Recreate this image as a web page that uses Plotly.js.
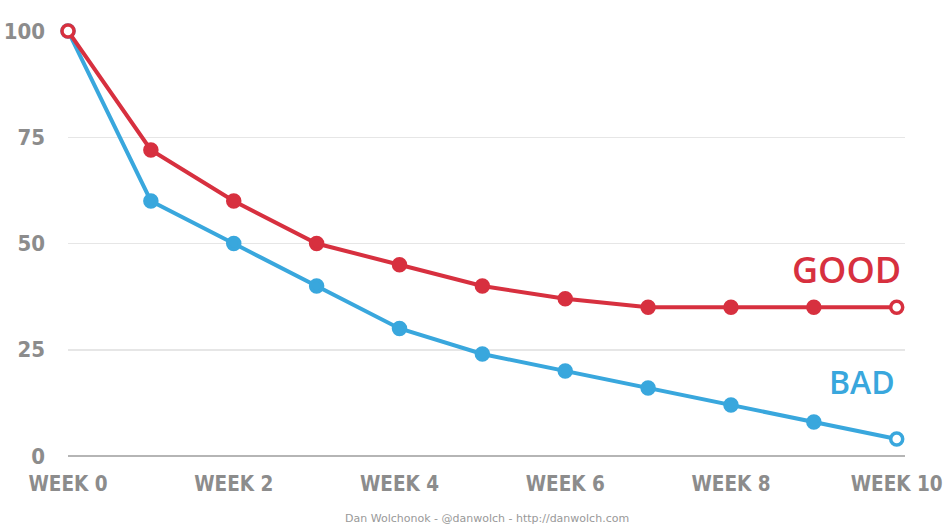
<!DOCTYPE html>
<html>
<head>
<meta charset="utf-8">
<script src="https://cdn.plot.ly/plotly-3.0.1.min.js"></script>
<style>html,body{margin:0;padding:0;background:#fff;}#chart{width:945px;height:528px;}</style>
</head>
<body>
<div id="chart"></div>
<script>
const weeks = [0,1,2,3,4,5,6,7,8,9,10];
const good = [100,72,60,50,45,40,37,35,35,35,35];
const bad = [100,60,50,40,30,24,20,16,12,8,4];
const xTickVals = [0,2,4,6,8,10];
const xTickText = ["WEEK 0","WEEK 2","WEEK 4","WEEK 6","WEEK 8","WEEK 10"];
const yTickVals = [0,25,50,75,100];
const seriesNames = ["GOOD","BAD"];
const credit = "Dan Wolchonok - @danwolch - http://danwolch.com";

const RED = "#d7303f", BLUE = "#39a7dd";
const fam = "'DejaVu Sans Condensed', 'Liberation Sans Narrow', sans-serif";
const xTickFont = {family:fam, size:20.5, color:"#8c8c8c", weight:"bold"};
const yTickFont = {family:fam, size:22, color:"#8c8c8c", weight:"bold"};

function trace(y, color, name){
  const fills = y.map((v,i)=> (i===0||i===y.length-1) ? "#ffffff" : color);
  return {x:weeks, y:y, name:name, type:"scatter", mode:"lines+markers", cliponaxis:false,
    line:{color:color, width:4},
    marker:{symbol:"circle", size:12, color:fills, line:{color:color, width:3.5}}};
}

const data = [trace(bad, BLUE, seriesNames[1]), trace(good, RED, seriesNames[0])];

const layout = {
  width:945, height:528,
  margin:{l:68, r:40, t:31, b:72},
  paper_bgcolor:"#fff", plot_bgcolor:"#fff",
  showlegend:false,
  xaxis:{range:[0,10.1], tickvals:xTickVals, ticktext:xTickText, showgrid:false, zeroline:false,
    showline:false, tickfont:xTickFont, ticks:"", ticklabelstandoff:13, ticklabeloverflow:"allow", fixedrange:true},
  yaxis:{range:[0,100], tickvals:yTickVals, showgrid:true, gridcolor:"#e6e6e6", gridwidth:1.5,
    zeroline:true, zerolinecolor:"#b5b5b5", zerolinewidth:2.5, showline:false,
    tickfont:yTickFont, ticks:"", ticklabelstandoff:22, ticklabeloverflow:"allow", fixedrange:true},
  annotations:[
    {x:10.07, y:43.8, xref:"x", yref:"y", xanchor:"right", yanchor:"middle", text:seriesNames[0], showarrow:false,
      font:{family:"'Open Sans', 'Lato', sans-serif", size:36, color:RED, weight:600}},
    {x:10.0, y:17.6, xref:"x", yref:"y", xanchor:"right", yanchor:"middle", text:seriesNames[1], showarrow:false,
      font:{family:"'Open Sans', 'Lato', sans-serif", size:32, color:BLUE, weight:600}},
    {x:0.5, y:-0.148, xref:"paper", yref:"paper", xanchor:"center", yanchor:"middle", text:credit, showarrow:false,
      font:{family:"'DejaVu Sans', sans-serif", size:11, color:"#999"}}
  ]
};
Plotly.newPlot("chart", data, layout, {displayModeBar:false, staticPlot:true});
</script>
</body>
</html>
